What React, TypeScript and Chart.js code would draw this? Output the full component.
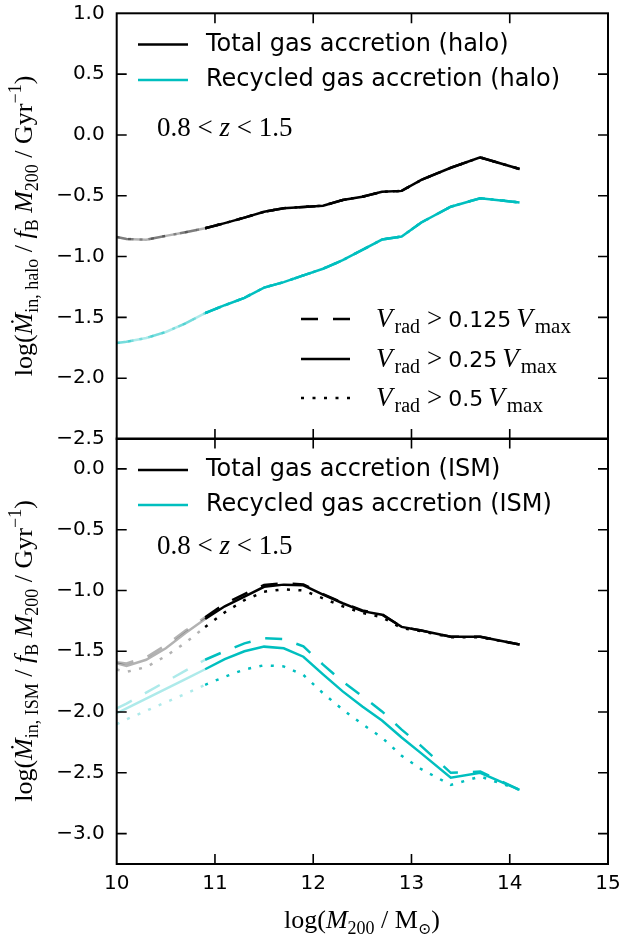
import React, { useEffect, useRef } from 'react';
import { Chart, registerables } from 'chart.js';

Chart.register(...registerables);

// ---------------- data ----------------
const massBins = [10.0, 10.1, 10.3, 10.5, 10.7, 10.9, 11.1, 11.3, 11.5, 11.7, 11.9, 12.1, 12.3, 12.5, 12.7, 12.9, 13.1, 13.4, 13.7, 14.1];

// top panel (halo)
const haloTotal = [-0.84, -0.855, -0.862, -0.83, -0.80, -0.767, -0.725, -0.68, -0.632, -0.602, -0.592, -0.582, -0.535, -0.508, -0.468, -0.46, -0.37, -0.27, -0.185, -0.28];
const haloRecycled = [-1.71, -1.70, -1.67, -1.62, -1.55, -1.465, -1.40, -1.34, -1.255, -1.21, -1.155, -1.10, -1.03, -0.945, -0.86, -0.835, -0.72, -0.59, -0.52, -0.555];

// bottom panel (ISM)
const ismTotalDashed = [-1.59, -1.60, -1.55, -1.45, -1.33, -1.22, -1.11, -1.03, -0.955, -0.94, -0.95, -1.03, -1.10, -1.165, -1.195, -1.30, -1.33, -1.38, -1.38, -1.445];
const ismTotalSolid = [-1.60, -1.62, -1.57, -1.475, -1.35, -1.235, -1.13, -1.05, -0.97, -0.952, -0.958, -1.035, -1.105, -1.17, -1.20, -1.30, -1.33, -1.38, -1.38, -1.445];
const ismTotalDotted = [-1.65, -1.67, -1.63, -1.54, -1.43, -1.30, -1.18, -1.08, -1.01, -0.99, -1.00, -1.065, -1.13, -1.185, -1.22, -1.31, -1.335, -1.385, -1.385, -1.445];
const ismRecycledDashed = [-1.97, -1.93, -1.84, -1.75, -1.66, -1.57, -1.50, -1.435, -1.393, -1.40, -1.46, -1.61, -1.75, -1.87, -1.995, -2.145, -2.28, -2.50, -2.49, -2.64];
const ismRecycledSolid = [-2.01, -1.97, -1.89, -1.81, -1.73, -1.648, -1.565, -1.50, -1.462, -1.476, -1.545, -1.69, -1.83, -1.955, -2.07, -2.21, -2.34, -2.54, -2.50, -2.64];
const ismRecycledDotted = [-2.10, -2.06, -1.99, -1.92, -1.85, -1.776, -1.71, -1.65, -1.615, -1.625, -1.695, -1.845, -1.98, -2.10, -2.21, -2.36, -2.47, -2.60, -2.53, -2.64];

// axes
const xTicks = [10, 11, 12, 13, 14, 15];
const topYTicks = [1.0, 0.5, 0.0, -0.5, -1.0, -1.5, -2.0, -2.5];
const bottomYTicks = [0.0, -0.5, -1.0, -1.5, -2.0, -2.5, -3.0];

// text
const haloLegend = ['Total gas accretion (halo)', 'Recycled gas accretion (halo)'];
const ismLegend = ['Total gas accretion (ISM)', 'Recycled gas accretion (ISM)'];
const vradThresholds = ['0.125', '0.25', '0.5'];
const redshiftLow = '0.8';
const redshiftHigh = '1.5';

// ---------------- styles ----------------
const BLACK = '#000000';
const CYAN = '#00bfbf';
const BLACK_LIGHT = 'rgba(0,0,0,0.3)';
const CYAN_LIGHT = 'rgba(0,191,191,0.32)';
const LIGHT_LIMIT = 10.9;
const DASHED = [17, 15];
const DOTTED = [3, 8.5];
const SOLID: number[] = [];
const LW = 2.5;

const SERIF = '"Liberation Serif", "DejaVu Serif", serif';
const SANS = '"DejaVu Sans", sans-serif';
const fnt = (size: number, style = '', fam = SERIF) => `${style} ${size}px ${fam}`.trim();

type Seg = { t: string; f: string; dy?: number; gap?: number };

function drawRich(ctx: CanvasRenderingContext2D, segs: Seg[], x: number, y: number, align: 'left' | 'center', rot = 0) {
  ctx.save();
  ctx.translate(x, y);
  ctx.rotate(rot);
  let w = 0;
  for (const s of segs) {
    ctx.font = s.f;
    w += ctx.measureText(s.t).width + (s.gap || 0);
  }
  let cx = align === 'center' ? -w / 2 : 0;
  ctx.textAlign = 'left';
  ctx.textBaseline = 'alphabetic';
  ctx.fillStyle = '#000';
  for (const s of segs) {
    ctx.font = s.f;
    ctx.fillText(s.t, cx, s.dy || 0);
    cx += ctx.measureText(s.t).width + (s.gap || 0);
  }
  ctx.restore();
}

function yLabelSegs(sub: string): Seg[] {
  const R = fnt(26), I = fnt(26, 'italic'), S = fnt(18);
  return [
    { t: 'log(', f: R },
    { t: '\u1E40', f: I },
    { t: sub, f: S, dy: 6 },
    { t: ' / ', f: R },
    { t: 'f', f: I },
    { t: 'B', f: S, dy: 6 },
    { t: ' ', f: R },
    { t: 'M', f: I },
    { t: '200', f: S, dy: 6 },
    { t: ' / Gyr', f: R },
    { t: '\u22121', f: S, dy: -11 },
    { t: ')', f: R },
  ];
}

function zSegs(): Seg[] {
  const R = fnt(27), I = fnt(27, 'italic');
  return [
    { t: redshiftLow, f: R },
    { t: ' < ', f: R },
    { t: 'z', f: I },
    { t: ' < ', f: R },
    { t: redshiftHigh, f: R },
  ];
}

function vradSegs(th: string): Seg[] {
  const I = fnt(27, 'italic'), S = fnt(20), R = fnt(27), SA = fnt(22, '', SANS);
  return [
    { t: 'V', f: I, gap: 2 },
    { t: 'rad', f: S, dy: 6, gap: 7 },
    { t: '>', f: R, gap: 6 },
    { t: th, f: SA, gap: 5 },
    { t: 'V', f: I, gap: 2 },
    { t: 'max', f: fnt(21), dy: 6 },
  ];
}

function xLabelSegs(): Seg[] {
  const R = fnt(26), I = fnt(26, 'italic'), S = fnt(18);
  return [
    { t: 'log(', f: R },
    { t: 'M', f: I },
    { t: '200', f: S, dy: 6 },
    { t: ' / M', f: R },
    { t: '\u2299', f: fnt(16, '', '"DejaVu Serif", serif'), dy: 6 },
    { t: ')', f: R },
  ];
}

function mkDataset(ys: number[], color: string, light: string, dash: number[]) {
  return {
    data: massBins.map((x, i) => ({ x, y: ys[i] })),
    borderColor: color,
    borderWidth: LW,
    borderDash: dash,
    borderCapStyle: 'butt',
    pointRadius: 0,
    tension: 0,
    fill: false,
    segment: {
      borderColor: (c: any) => (c.p1.parsed.x <= LIGHT_LIMIT + 1e-6 ? light : undefined),
    },
  };
}

function drawFrame(chart: any, yTicks: number[]) {
  const ctx = chart.ctx as CanvasRenderingContext2D;
  const ca = chart.chartArea;
  const left = ca.left, right = ca.right, top = ca.top, bottom = ca.bottom;
  const xs = chart.scales.x;
  const ys = chart.scales.y;
  const TL = 10;
  ctx.save();
  ctx.setLineDash([]);
  ctx.lineWidth = 1.6;
  ctx.strokeStyle = '#000000';
  const xp = xTicks.map((v) => xs.getPixelForValue(v));
  const yp = yTicks.map((v) => ys.getPixelForValue(v));
  ctx.beginPath();
  for (const px of xp) {
    if (!(px > left + 1 && px < right - 1)) continue;
    ctx.moveTo(px, bottom);
    ctx.lineTo(px, bottom - TL);
    ctx.moveTo(px, top);
    ctx.lineTo(px, top + TL);
  }
  for (const py of yp) {
    if (!(py > top + 1 && py < bottom - 1)) continue;
    ctx.moveTo(left, py);
    ctx.lineTo(left + TL, py);
    ctx.moveTo(right, py);
    ctx.lineTo(right - TL, py);
  }
  ctx.stroke();
  ctx.lineWidth = 2;
  ctx.strokeRect(left, top, right - left, bottom - top);
  ctx.restore();
}

function legendLine(ctx: CanvasRenderingContext2D, x0: number, x1: number, y: number, color: string, dash: number[]) {
  ctx.save();
  ctx.strokeStyle = color;
  ctx.lineWidth = LW;
  ctx.lineCap = 'butt';
  ctx.setLineDash(dash);
  ctx.beginPath();
  ctx.moveTo(x0, y);
  ctx.lineTo(x1, y);
  ctx.stroke();
  ctx.restore();
}

function legendText(ctx: CanvasRenderingContext2D, text: string, x: number, y: number) {
  ctx.save();
  ctx.font = fnt(24, '', SANS);
  ctx.fillStyle = '#000';
  ctx.textAlign = 'left';
  ctx.textBaseline = 'middle';
  ctx.fillText(text, x, y);
  ctx.restore();
}

const tickFmt = (v: any) => {
  const n = Number(v);
  return (Math.abs(n) < 1e-9 ? 0 : n).toFixed(1).replace('-', '\u2212');
};

const zeroPad = (s: any) => {
  s.paddingTop = 0;
  s.paddingBottom = 0;
  s.paddingLeft = 0;
  s.paddingRight = 0;
};

function yScale(min: number, max: number, ticks: number[]) {
  return {
    type: 'linear',
    min,
    max,
    afterBuildTicks: (s: any) => {
      s.ticks = ticks.map((v) => ({ value: v }));
    },
    afterFit: (s: any) => {
      s.width = 116.7;
      zeroPad(s);
    },
    grid: { display: false, drawTicks: false },
    border: { display: false },
    ticks: {
      color: '#000',
      font: { family: 'DejaVu Sans', size: 20 },
      padding: 12,
      callback: tickFmt,
    },
  };
}

export default function App() {
  const topRef = useRef<HTMLCanvasElement>(null);
  const botRef = useRef<HTMLCanvasElement>(null);

  useEffect(() => {
    const topPlugin = {
      id: 'decorTop',
      afterDraw(chart: any) {
        const ctx = chart.ctx as CanvasRenderingContext2D;
        drawFrame(chart, topYTicks);
        legendLine(ctx, 138, 188, 44.5, BLACK, SOLID);
        legendText(ctx, haloLegend[0], 206, 45);
        legendLine(ctx, 138, 188, 80, CYAN, SOLID);
        legendText(ctx, haloLegend[1], 206, 80);
        const rows = [319, 359, 398];
        const dashes = [DASHED, SOLID, DOTTED];
        rows.forEach((ry, i) => {
          legendLine(ctx, 301, 350, ry, BLACK, dashes[i]);
          drawRich(ctx, vradSegs(vradThresholds[i]), 376, ry + 8, 'left');
        });
        drawRich(ctx, zSegs(), 157, 136, 'left');
        drawRich(ctx, yLabelSegs('in, halo'), 32, 226, 'center', -Math.PI / 2);
      },
    };

    const botPlugin = {
      id: 'decorBot',
      afterDraw(chart: any) {
        const ctx = chart.ctx as CanvasRenderingContext2D;
        drawFrame(chart, bottomYTicks);
        legendLine(ctx, 138, 188, 40, BLACK, SOLID);
        legendText(ctx, ismLegend[0], 206, 40);
        legendLine(ctx, 138, 188, 75, CYAN, SOLID);
        legendText(ctx, ismLegend[1], 206, 75);
        drawRich(ctx, zSegs(), 157, 124, 'left');
        drawRich(ctx, yLabelSegs('in, ISM'), 32, 221, 'center', -Math.PI / 2);
        drawRich(ctx, xLabelSegs(), 362, 498, 'center');
      },
    };

    const common = {
      animation: false,
      responsive: false,
      maintainAspectRatio: false,
      plugins: { legend: { display: false }, tooltip: { enabled: false } },
      events: [],
    };

    const topChart = new Chart(topRef.current as HTMLCanvasElement, {
      type: 'line',
      data: {
        datasets: [
          mkDataset(haloTotal, BLACK, BLACK_LIGHT, SOLID),
          mkDataset(haloTotal, BLACK, BLACK_LIGHT, DASHED),
          mkDataset(haloTotal, BLACK, BLACK_LIGHT, DOTTED),
          mkDataset(haloRecycled, CYAN, CYAN_LIGHT, SOLID),
          mkDataset(haloRecycled, CYAN, CYAN_LIGHT, DASHED),
          mkDataset(haloRecycled, CYAN, CYAN_LIGHT, DOTTED),
        ] as any,
      },
      options: {
        ...common,
        layout: { autoPadding: false, padding: { left: 0, right: 13, top: 13.3, bottom: 11 } },
        scales: {
          x: { type: 'linear', min: 10, max: 15, display: false, afterFit: zeroPad },
          y: yScale(-2.5, 1.0, topYTicks),
        },
      } as any,
      plugins: [topPlugin],
    });

    const botChart = new Chart(botRef.current as HTMLCanvasElement, {
      type: 'line',
      data: {
        datasets: [
          mkDataset(ismTotalSolid, BLACK, BLACK_LIGHT, SOLID),
          mkDataset(ismTotalDashed, BLACK, BLACK_LIGHT, DASHED),
          mkDataset(ismTotalDotted, BLACK, BLACK_LIGHT, DOTTED),
          mkDataset(ismRecycledSolid, CYAN, CYAN_LIGHT, SOLID),
          mkDataset(ismRecycledDashed, CYAN, CYAN_LIGHT, DASHED),
          mkDataset(ismRecycledDotted, CYAN, CYAN_LIGHT, DOTTED),
        ] as any,
      },
      options: {
        ...common,
        layout: { autoPadding: false, padding: { left: 0, right: 13, top: 8.5, bottom: 0 } },
        scales: {
          x: {
            type: 'linear',
            min: 10,
            max: 15,
            afterBuildTicks: (s: any) => {
              s.ticks = xTicks.map((v) => ({ value: v }));
            },
            afterFit: (s: any) => {
              s.height = 74;
              zeroPad(s);
            },
            grid: { display: false, drawTicks: false },
            border: { display: false },
            ticks: {
              color: '#000',
              font: { family: 'DejaVu Sans', size: 20 },
              padding: 8,
              maxRotation: 0,
              autoSkip: false,
              callback: (v: any) => String(v),
            },
          },
          y: yScale(-3.25, 0.25, bottomYTicks),
        },
      } as any,
      plugins: [botPlugin],
    });

    return () => {
      topChart.destroy();
      botChart.destroy();
    };
  }, []);

  return (
    <div style={{ position: 'absolute', left: 0, top: 0, width: 621, height: 938, background: '#fff' }}>
      <canvas ref={botRef} width={621} height={508} style={{ position: 'absolute', left: 0, top: 430, width: 621, height: 508 }} />
      <canvas ref={topRef} width={621} height={450} style={{ position: 'absolute', left: 0, top: 0, width: 621, height: 450 }} />
    </div>
  );
}
